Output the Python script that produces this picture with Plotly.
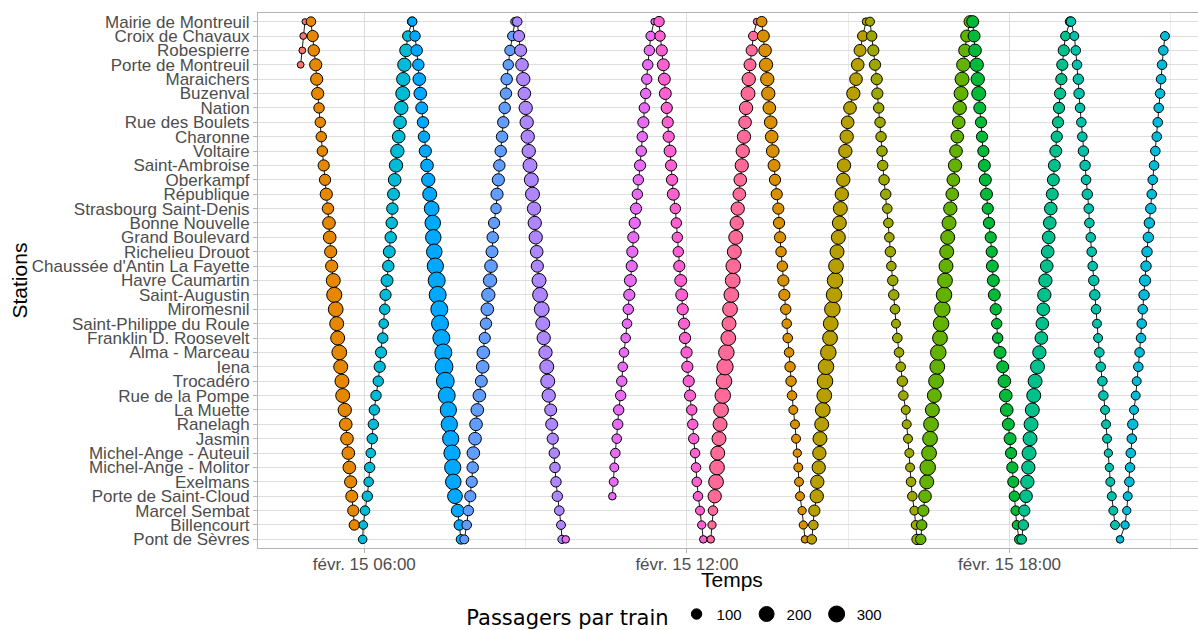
import numpy as np
import plotly.graph_objects as go

# ---------------- data ----------------
stations = [
    "Mairie de Montreuil", "Croix de Chavaux", "Robespierre", "Porte de Montreuil",
    "Maraichers", "Buzenval", "Nation", "Rue des Boulets", "Charonne", "Voltaire",
    "Saint-Ambroise", "Oberkampf", "République", "Strasbourg Saint-Denis",
    "Bonne Nouvelle", "Grand Boulevard", "Richelieu Drouot", "Chaussée d'Antin La Fayette",
    "Havre Caumartin", "Saint-Augustin", "Miromesnil", "Saint-Philippe du Roule",
    "Franklin D. Roosevelt", "Alma - Marceau", "Iena", "Trocadéro", "Rue de la Pompe",
    "La Muette", "Ranelagh", "Jasmin", "Michel-Ange - Auteuil", "Michel-Ange - Molitor",
    "Exelmans", "Porte de Saint-Cloud", "Marcel Sembat", "Billencourt", "Pont de Sèvres",
]

tick_vals = [360, 720, 1080]            # minutes after midnight
tick_text = ["févr. 15 06:00", "févr. 15 12:00", "févr. 15 18:00"]
minor_vals = [540, 900, 1260]
legend_sizes = [100, 200, 300]

DOWN = list(range(0, 37))      # Mairie de Montreuil -> Pont de Sèvres
UP = list(range(36, -1, -1))   # Pont de Sèvres -> Mairie de Montreuil

# times: minutes after midnight ; pax: passengers per train
t01_stops = [3, 2, 1, 0]
t01_times = [289.0, 290.8, 291.9, 293.8]
t01_pax = [45, 45, 45, 35]

t02_stops = list(range(0, 36))
t02_times = [300.5, 302.4, 303.6, 305.8, 306.9, 308.0, 309.5, 310.9, 312.0, 313.2, 314.7, 316.2,
             317.6, 319.5, 320.6, 321.4, 322.5, 323.6, 325.4, 326.5, 328.1, 329.2, 330.3, 332.1,
             333.7, 335.1, 335.9, 338.2, 339.3, 340.7, 342.2, 343.3, 344.8, 346.0, 347.7, 348.9]
t02_pax = [85, 115, 120, 135, 135, 135, 100, 100, 100, 100, 115, 115, 135, 120, 145, 145, 135, 135,
           175, 205, 195, 175, 175, 195, 175, 175, 175, 160, 145, 145, 145, 145, 135, 130, 115, 100]

t03_stops = UP
t03_times = [358.2, 358.9, 360.8, 363.4, 364.9, 366.0, 367.2, 368.9, 370.1, 371.2, 373.1, 375.6,
             377.2, 378.7, 380.6, 381.7, 382.8, 383.7, 385.4, 386.8, 387.9, 389.5, 390.6, 391.3,
             392.6, 393.9, 395.4, 396.9, 398.4, 399.9, 401.3, 402.9, 403.5, 404.7, 406.6, 408.5, 413.3]
t03_pax = [70, 70, 85, 100, 85, 100, 85, 100, 100, 100, 100, 100, 115, 115, 100, 85, 100, 115,
           130, 120, 130, 120, 120, 120, 130, 145, 160, 160, 145, 145, 160, 175, 160, 160, 145, 100, 80]

t04_stops = DOWN
t04_times = [413.6, 416.6, 418.5, 420.3, 421.4, 422.5, 424.1, 425.5, 426.6, 428.1, 430.0, 431.4,
             433.0, 435.2, 436.4, 437.0, 438.1, 439.3, 440.8, 441.9, 443.7, 444.5, 446.0, 448.2,
             449.0, 450.4, 452.0, 453.8, 454.9, 456.4, 457.9, 458.7, 459.3, 461.2, 464.2, 466.0, 467.9]
t04_pax = [80, 100, 120, 120, 145, 145, 130, 120, 120, 135, 145, 160, 175, 195, 215, 215, 215, 235,
           255, 255, 255, 255, 255, 255, 280, 280, 255, 235, 235, 235, 235, 235, 215, 195, 145, 100, 85]

t05_stops = UP
t05_times = [471.6, 474.3, 476.1, 478.3, 479.9, 481.0, 481.7, 483.6, 484.7, 486.1, 488.4, 490.6,
             492.1, 492.8, 494.4, 495.8, 497.3, 498.4, 500.3, 501.4, 502.5, 503.3, 504.8, 507.0,
             508.1, 509.6, 510.7, 512.2, 513.7, 515.1, 516.7, 518.1, 518.9, 520.7, 522.6, 525.2, 528.2]
t05_pax = [75, 85, 100, 115, 115, 120, 145, 145, 145, 145, 145, 130, 145, 145, 115, 120, 145, 160,
           160, 145, 130, 120, 115, 100, 135, 135, 120, 120, 120, 120, 120, 120, 120, 100, 100, 85, 70]

t06_stops = DOWN
t06_times = [530.7, 532.6, 534.5, 536.0, 537.4, 538.6, 540.1, 541.2, 542.4, 543.5, 544.9, 546.4,
             547.7, 549.4, 550.2, 551.3, 552.4, 553.1, 555.0, 556.1, 558.0, 559.1, 560.2, 562.2,
             563.6, 564.7, 565.8, 568.0, 569.1, 570.3, 572.0, 572.8, 573.9, 575.4, 577.6, 579.5, 580.6]
t06_pax = [85, 115, 130, 145, 160, 145, 160, 160, 160, 160, 175, 175, 175, 160, 160, 160, 145, 135,
           175, 195, 195, 175, 160, 160, 175, 175, 160, 130, 130, 115, 100, 100, 100, 100, 85, 75, 65]

t07a_stops = [36]
t07a_times = [584.8]
t07a_pax = [55]

t07_stops = list(range(33, -1, -1))
t07_times = [636.8, 638.3, 639.0, 640.1, 641.7, 642.8, 643.9, 646.1, 647.3, 648.4, 649.8, 651.7,
             653.2, 654.6, 655.7, 656.9, 658.4, 659.1, 660.2, 661.8, 663.2, 664.7, 665.8, 667.7,
             669.1, 670.2, 671.4, 672.5, 674.0, 675.2, 676.3, 678.1, 679.6, 683.3]
t07_pax = [55, 75, 75, 85, 85, 100, 100, 100, 100, 85, 85, 85, 85, 100, 115, 130, 115, 115, 115,
           115, 115, 100, 100, 115, 100, 100, 115, 100, 100, 100, 100, 100, 85, 40]

t08_stops = DOWN
t08_times = [688.9, 690.0, 691.9, 693.7, 694.8, 695.9, 697.5, 698.6, 699.7, 701.2, 702.3, 703.4,
             704.8, 707.1, 708.2, 709.3, 710.4, 711.5, 713.1, 714.2, 715.3, 716.8, 717.9, 719.6,
             720.5, 722.0, 723.5, 725.4, 726.5, 727.6, 729.1, 730.2, 731.0, 732.4, 734.6, 736.5, 738.3]
t08_pax = [100, 100, 115, 130, 130, 130, 115, 115, 115, 130, 115, 115, 130, 100, 100, 100, 100, 115,
           130, 130, 115, 115, 115, 115, 115, 115, 115, 100, 100, 100, 85, 85, 85, 85, 75, 65, 55]

t09_stops = UP
t09_times = [746.6, 748.0, 749.1, 751.0, 752.5, 753.6, 754.4, 755.8, 757.0, 758.1, 760.0, 761.4,
             762.5, 764.0, 766.2, 767.0, 768.1, 769.6, 771.1, 771.8, 772.9, 774.5, 775.6, 776.7,
             778.5, 779.6, 781.2, 782.3, 783.7, 784.9, 786.0, 788.2, 789.0, 790.4, 792.3, 794.1, 797.9]
t09_pax = [55, 65, 85, 160, 195, 195, 175, 175, 175, 195, 215, 215, 235, 215, 195, 175, 195, 195,
           195, 195, 175, 175, 160, 160, 145, 145, 160, 160, 160, 145, 160, 175, 160, 130, 115, 85, 45]

t10_stops = DOWN
t10_times = [803.5, 805.3, 807.2, 808.3, 809.7, 810.8, 812.0, 813.5, 814.6, 815.8, 817.2, 818.3,
             820.2, 822.0, 822.8, 823.9, 825.0, 826.5, 827.6, 828.7, 830.3, 831.4, 832.5, 834.0,
             835.1, 836.2, 837.3, 838.7, 840.6, 841.8, 843.2, 844.3, 845.1, 846.2, 848.5, 849.9, 851.8]
t10_pax = [100, 130, 145, 160, 160, 160, 145, 145, 145, 145, 130, 115, 115, 115, 115, 115, 100, 100,
           115, 115, 100, 85, 85, 85, 100, 100, 85, 75, 75, 75, 65, 75, 75, 75, 65, 65, 55]

t11_stops = UP
t11_times = [859.3, 861.1, 862.2, 864.9, 865.5, 867.1, 867.8, 868.5, 870.4, 871.6, 873.3, 874.1,
             875.2, 877.8, 879.7, 880.5, 882.3, 884.2, 885.3, 886.4, 887.5, 889.0, 890.1, 891.2,
             892.8, 894.5, 895.3, 896.8, 898.3, 899.4, 902.0, 905.7, 908.7, 910.6, 913.2, 916.2, 919.9]
t11_pax = [85, 85, 115, 160, 160, 160, 160, 175, 175, 195, 195, 215, 215, 215, 195, 195, 215, 215,
           215, 195, 175, 175, 175, 175, 160, 160, 160, 160, 160, 145, 145, 160, 145, 145, 130, 100, 55]

t12_stops = DOWN
t12_times = [924.3, 926.2, 928.0, 929.9, 931.8, 932.5, 934.0, 935.5, 936.6, 937.7, 938.5, 940.0,
             941.9, 943.6, 944.8, 945.9, 947.0, 948.1, 949.7, 950.8, 952.2, 953.3, 954.8, 956.7,
             958.6, 960.4, 961.5, 964.2, 965.3, 966.7, 968.2, 969.0, 970.1, 971.5, 973.8, 975.3, 976.8]
t12_pax = [75, 100, 115, 115, 115, 115, 100, 100, 100, 100, 100, 100, 100, 85, 85, 85, 100, 85,
           100, 100, 85, 75, 85, 85, 85, 100, 85, 75, 75, 75, 75, 75, 85, 85, 75, 75, 100]

t13_stops = UP
t13_times = [980.9, 982.0, 983.8, 985.7, 987.6, 988.7, 990.2, 991.3, 992.4, 993.9, 996.1, 998.0,
             999.4, 1000.5, 1002.4, 1003.6, 1005.0, 1006.9, 1008.0, 1009.1, 1009.9, 1011.0, 1012.5,
             1013.9, 1016.1, 1017.3, 1019.2, 1020.3, 1021.7, 1023.3, 1024.4, 1025.9, 1027.0, 1028.4,
             1030.3, 1032.2, 1035.9]
t13_pax = [100, 100, 115, 145, 175, 215, 195, 195, 195, 175, 175, 195, 195, 215, 195, 215, 215, 215,
           195, 175, 175, 175, 175, 160, 145, 145, 160, 145, 145, 145, 160, 175, 175, 160, 145, 130, 130]

t14_stops = DOWN
t14_times = [1038.9, 1040.4, 1041.5, 1043.4, 1044.5, 1045.6, 1046.8, 1048.2, 1049.3, 1050.8, 1051.9,
             1053.0, 1054.3, 1055.7, 1057.1, 1059.0, 1060.1, 1060.8, 1061.9, 1063.0, 1064.6, 1065.7,
             1066.8, 1069.4, 1072.4, 1074.2, 1075.8, 1076.9, 1078.7, 1080.6, 1081.7, 1083.1, 1084.2,
             1085.4, 1086.9, 1088.0, 1090.9]
t14_pax = [130, 130, 145, 160, 160, 175, 130, 115, 115, 115, 130, 130, 130, 115, 115, 115, 115, 130,
           130, 130, 115, 100, 100, 130, 130, 145, 145, 145, 130, 130, 115, 115, 115, 100, 85, 75, 85]

t15_stops = UP
t15_times = [1093.6, 1095.4, 1096.5, 1098.4, 1099.9, 1101.0, 1101.8, 1102.9, 1104.0, 1105.4, 1107.0,
             1108.5, 1111.2, 1113.3, 1115.5, 1116.6, 1117.7, 1118.8, 1120.0, 1121.5, 1122.6, 1123.7,
             1124.9, 1126.0, 1127.7, 1128.9, 1130.0, 1131.6, 1132.7, 1134.1, 1135.2, 1136.4, 1137.8,
             1138.9, 1140.5, 1142.3, 1147.5]
t15_pax = [85, 100, 115, 145, 160, 160, 175, 175, 175, 175, 175, 175, 175, 160, 145, 145, 145, 160,
           160, 145, 145, 145, 145, 145, 130, 130, 130, 130, 115, 115, 115, 115, 115, 115, 115, 85, 85]

t16_stops = list(range(0, 36))
t16_times = [1148.6, 1152.3, 1153.9, 1155.3, 1156.8, 1157.6, 1158.7, 1160.1, 1161.2, 1162.4, 1164.3,
             1165.4, 1166.8, 1168.4, 1169.1, 1170.6, 1171.7, 1172.8, 1174.0, 1175.1, 1176.5, 1177.6,
             1178.8, 1180.2, 1181.8, 1183.6, 1184.7, 1186.6, 1187.7, 1188.8, 1190.3, 1191.4, 1192.5,
             1194.1, 1195.8, 1197.7]
t16_pax = [85, 75, 85, 85, 100, 100, 85, 85, 85, 100, 100, 85, 100, 85, 85, 85, 85, 85, 100, 100,
           85, 75, 75, 85, 85, 85, 85, 75, 75, 75, 65, 65, 75, 75, 75, 75]

t17_stops = list(range(36, 0, -1))
t17_times = [1203.3, 1208.9, 1210.8, 1211.9, 1213.7, 1214.5, 1215.3, 1216.4, 1217.5, 1218.9, 1220.8,
             1221.9, 1223.7, 1225.1, 1226.7, 1227.5, 1228.6, 1230.1, 1231.2, 1232.3, 1233.4, 1234.9,
             1236.0, 1237.6, 1238.7, 1239.8, 1241.3, 1242.7, 1244.3, 1245.4, 1246.5, 1248.0, 1249.1,
             1250.2, 1251.6, 1253.5]
t17_pax = [55, 65, 65, 75, 85, 85, 85, 85, 100, 75, 75, 75, 85, 85, 85, 85, 85, 100, 115, 100, 100,
           100, 100, 100, 85, 85, 85, 85, 85, 85, 85, 85, 85, 85, 85, 75]

trains = [
    (t01_stops, t01_times, t01_pax), (t02_stops, t02_times, t02_pax),
    (t03_stops, t03_times, t03_pax), (t04_stops, t04_times, t04_pax),
    (t05_stops, t05_times, t05_pax), (t06_stops, t06_times, t06_pax),
    (t07a_stops, t07a_times, t07a_pax), (t07_stops, t07_times, t07_pax),
    (t08_stops, t08_times, t08_pax), (t09_stops, t09_times, t09_pax),
    (t10_stops, t10_times, t10_pax), (t11_stops, t11_times, t11_pax),
    (t12_stops, t12_times, t12_pax), (t13_stops, t13_times, t13_pax),
    (t14_stops, t14_times, t14_pax), (t15_stops, t15_times, t15_pax),
    (t16_stops, t16_times, t16_pax), (t17_stops, t17_times, t17_pax),
]

# ---------------- style ----------------
train_colors = ["#F8766D", "#E58700", "#00BAD6", "#00A9FF", "#619CFF", "#AE87FF",
                "#E76BF3", "#E76BF3", "#FD61D1", "#FF6A98", "#D89000", "#B79F00",
                "#9CA700", "#64B200", "#00BA38", "#00C08B", "#00C1AA", "#00BCD8"]
FONT = "Liberation Sans, Arial, sans-serif"
OUTLINE = 1.0


def msize(v):
    return 1.1 * np.sqrt(np.asarray(v, dtype=float)) - 0.6


fig = go.Figure()

# paths first (below all points)
for stops, times, pax in trains:
    fig.add_trace(go.Scatter(
        x=times, y=[stations[i] for i in stops], mode="lines",
        line=dict(color="black", width=0.9), showlegend=False, hoverinfo="skip"))

# points
for (stops, times, pax), col in zip(trains, train_colors):
    fig.add_trace(go.Scatter(
        x=times, y=[stations[i] for i in stops], mode="markers",
        marker=dict(color=col, size=msize(pax), opacity=1,
                    line=dict(color="black", width=OUTLINE)),
        showlegend=False,
        text=[f"{p}" for p in pax],
        hovertemplate="%{y}<br>%{x}<br>%{text} passagers<extra></extra>"))

# size legend entries
for v in legend_sizes:
    fig.add_trace(go.Scatter(
        x=[None], y=[None], mode="markers", name=str(v),
        marker=dict(color="black", size=float(msize(v)), line=dict(color="black", width=OUTLINE)),
        showlegend=True))

axis_common = dict(
    showgrid=True, gridcolor="#DEDEDE", gridwidth=1,
    zeroline=False, showline=True, linecolor="#B3B3B3", linewidth=1,
    ticks="outside", ticklen=4, tickcolor="#B3B3B3", tickwidth=1,
    tickfont=dict(family=FONT, size=17, color="#4D4D4D"),
)

fig.update_layout(
    width=1198, height=630,
    margin=dict(l=258, r=0, t=13, b=82, autoexpand=False),
    paper_bgcolor="white", plot_bgcolor="white",
    font=dict(family=FONT, color="black"),
    xaxis=dict(
        range=[241.4, 1290.3], tickmode="array", tickvals=tick_vals, ticktext=tick_text,
        minor=dict(tickvals=minor_vals, showgrid=True, gridcolor="#EBEBEB", gridwidth=1, ticks=""),
        mirror=True, ticklabelstandoff=-3,
        **axis_common),
    yaxis=dict(
        type="category", categoryorder="array", categoryarray=stations,
        tickmode="array", tickvals=stations, ticktext=stations,
        range=[36.6, -0.6], mirror=False,
        **axis_common),
    legend=dict(
        orientation="h", x=0.2195, xanchor="left", y=-0.093, yanchor="top",
        title=dict(text="Passagers par train",
                   font=dict(family="DejaVu Sans, sans-serif", size=21, color="black"), side="left"),
        font=dict(family=FONT, size=15, color="black"),
        itemsizing="trace", bgcolor="rgba(0,0,0,0)", tracegroupgap=0, itemwidth=30,
    ),
    showlegend=True,
    annotations=[
        dict(text="Temps", xref="paper", yref="paper", x=0.504, y=-0.0598,
             xanchor="center", yanchor="middle", showarrow=False,
             font=dict(family=FONT, size=21, color="black")),
        dict(text="Stations", xref="paper", yref="paper", x=-0.2532, y=0.5,
             xanchor="center", yanchor="middle", textangle=-90, showarrow=False,
             font=dict(family=FONT, size=21, color="black")),
    ],
)

fig.write_html("out.html", config={"displayModeBar": False},
               post_script="document.body.style.margin='0px';")
